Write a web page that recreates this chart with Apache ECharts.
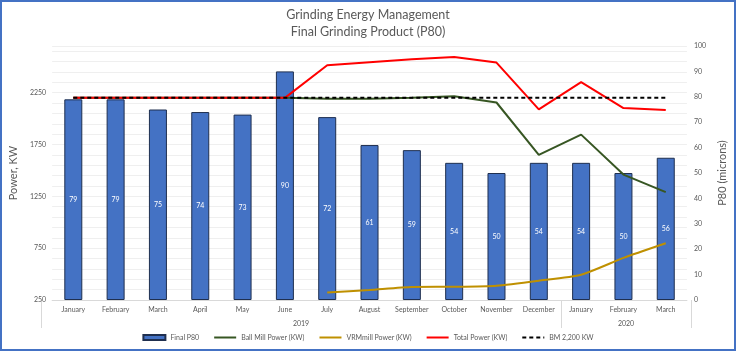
<!DOCTYPE html>
<html>
<head>
<meta charset="utf-8">
<script src="https://cdn.jsdelivr.net/npm/echarts@6/dist/echarts.min.js"></script>
<style>
  html, body { margin: 0; padding: 0; background: #fff; }
  .com-container { position: relative; width: 736px; height: 351px; overflow: hidden; }
  .com-chart { width: 736px; height: 351px; }
  .com-border { position: absolute; left: 0; top: 0; width: 736px; height: 351px; box-sizing: border-box; border: 2px solid #4472c4; pointer-events: none; }
</style>
</head>
<body>
<div class="com-container">
  <div class="com-chart" id="trend_ref"></div>
  <div class="com-border"></div>
</div>
<script>
// 类目
const months = ['January', 'February', 'March', 'April', 'May', 'June', 'July', 'August',
  'September', 'October', 'November', 'December', 'January', 'February', 'March'];
const yearLabels = ['2019', '2020'];
// P80 柱子 (microns, 右轴)
const finalP80 = [79, 79, 75, 74, 73, 90, 72, 61, 59, 54, 50, 54, 54, 50, 56];
// 功率 (KW, 左轴)
const ballMillPower = [2200, 2200, 2200, 2200, 2200, 2200, 2190, 2190, 2200, 2215, 2155, 1650, 1845, 1460, 1290];
const vrmPower = [null, null, null, null, null, null, 323, 347, 376, 378, 388, 436, 494, 656, 797];
const totalPower = [2200, 2200, 2200, 2200, 2200, 2200, 2514, 2543, 2572, 2594, 2540, 2089, 2352, 2101, 2082];
const bmLimit = [2200, 2200, 2200, 2200, 2200, 2200, 2200, 2200, 2200, 2200, 2200, 2200, 2200, 2200, 2200];

const textColor = '#595959';
const fontFamily = 'Lato, "Liberation Sans", sans-serif';
const gridPos = { left: 41, right: 45, top: 46, bottom: 51 };
// 图例里的线条不要圆点
const lineLegend = (name) => ({ name: name, itemStyle: { opacity: 0 } });

const chartInsance = echarts.init(document.getElementById('trend_ref'));
const option = {
  animation: false,
  textStyle: { fontFamily: fontFamily },
  title: {
    text: 'Grinding Energy Management\nFinal Grinding Product (P80)',
    left: 'center',
    top: 1,
    textStyle: { fontSize: 12.5, fontWeight: 'normal', color: textColor, lineHeight: 17, fontFamily: fontFamily }
  },
  legend: {
    bottom: 5,
    left: 'center',
    itemWidth: 22,
    itemHeight: 5,
    itemGap: 14,
    textStyle: { fontSize: 7, color: textColor, fontFamily: fontFamily },
    data: [
      { name: 'Final P80', icon: 'rect' },
      lineLegend('Ball Mill Power (KW)'),
      lineLegend('VRMmill Power (KW)'),
      lineLegend('Total Power (KW)'),
      lineLegend('BM 2,200 KW')
    ]
  },
  grid: [
    Object.assign({}, gridPos),
    Object.assign({}, gridPos)
  ],
  xAxis: [
    {
      type: 'category',
      data: months,
      gridIndex: 0,
      axisLine: { lineStyle: { color: '#d9d9d9' } },
      axisTick: { show: false },
      axisLabel: { interval: 0, fontSize: 7, color: textColor, margin: 6 }
    },
    {
      // 年份分组
      type: 'value',
      gridIndex: 1,
      min: 0,
      max: months.length,
      position: 'bottom',
      axisLine: { show: false },
      splitLine: { show: false },
      axisTick: { show: true, customValues: [0, 12, 15], length: 28, lineStyle: { color: '#d9d9d9' } },
      axisLabel: {
        customValues: [6, 13.5],
        fontSize: 7,
        color: textColor,
        margin: 20,
        formatter: function (v) { return v < 12 ? yearLabels[0] : yearLabels[1]; }
      }
    }
  ],
  yAxis: [
    {
      type: 'value',
      gridIndex: 0,
      min: 250,
      max: 2700,
      interval: 250,
      name: 'Power, KW',
      nameLocation: 'middle',
      nameGap: 27,
      nameTextStyle: { fontSize: 11, color: textColor },
      axisLine: { show: false },
      axisTick: { show: false },
      splitLine: { show: false },
      axisLabel: {
        fontSize: 7, color: textColor, margin: 6,
        formatter: function (v) { return (v - 250) % 500 === 0 && v <= 2250 ? String(v) : ''; }
      }
    },
    {
      type: 'value',
      gridIndex: 0,
      min: 0,
      max: 100,
      interval: 10,
      position: 'right',
      name: 'P80 (microns)',
      nameLocation: 'middle',
      nameRotate: 90,
      nameGap: 24,
      nameTextStyle: { fontSize: 11, color: textColor },
      axisLine: { show: false },
      axisTick: { show: false },
      splitLine: { show: false },
      axisLabel: { fontSize: 7, color: textColor, margin: 7 }
    },
    {
      // 网格线 (每 100 KW)
      type: 'value',
      gridIndex: 0,
      min: 0,
      max: 2450,
      interval: 100,
      axisLine: { show: false },
      axisTick: { show: false },
      axisLabel: { show: false },
      splitLine: { lineStyle: { color: '#efefef', width: 1 } }
    },
    {
      type: 'value',
      gridIndex: 1,
      show: false
    }
  ],
  series: [
    {
      name: 'Final P80',
      type: 'bar',
      yAxisIndex: 1,
      data: finalP80,
      barWidth: 18,
      itemStyle: { color: '#4472c4', borderColor: '#1f2f4f', borderWidth: 1 },
      label: { show: true, position: 'inside', color: '#fff', fontSize: 7 }
    },
    {
      name: 'Ball Mill Power (KW)',
      type: 'line',
      yAxisIndex: 0,
      data: ballMillPower,
      symbol: 'none',
      lineStyle: { color: '#375623', width: 2 },
      itemStyle: { color: '#375623' }
    },
    {
      name: 'VRMmill Power (KW)',
      type: 'line',
      yAxisIndex: 0,
      data: vrmPower,
      symbol: 'none',
      smooth: 0.2,
      lineStyle: { color: '#bf9000', width: 2 },
      itemStyle: { color: '#bf9000' }
    },
    {
      name: 'Total Power (KW)',
      type: 'line',
      yAxisIndex: 0,
      data: totalPower,
      symbol: 'none',
      lineStyle: { color: '#ff0000', width: 2 },
      itemStyle: { color: '#ff0000' }
    },
    {
      name: 'BM 2,200 KW',
      type: 'line',
      yAxisIndex: 0,
      data: bmLimit,
      symbol: 'none',
      lineStyle: { color: '#000', width: 2, type: [4, 3] },
      itemStyle: { color: '#000' }
    }
  ]
};
chartInsance.setOption(option);
</script>
</body>
</html>
